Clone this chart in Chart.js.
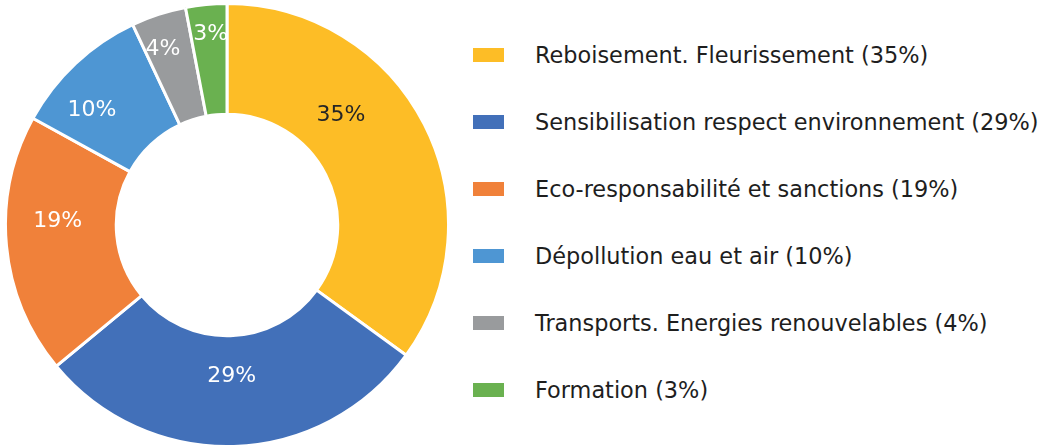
<!DOCTYPE html>
<html>
<head>
<meta charset="utf-8">
<script src="https://cdn.jsdelivr.net/npm/chart.js@4/dist/chart.umd.min.js"></script>
<style>
  html, body { margin: 0; padding: 0; background: #ffffff; width: 1052px; height: 446px; overflow: hidden; }
  #wrap { position: absolute; left: 4px; top: 2px; width: 446px; height: 446px; }
  #legend { position: absolute; left: 473px; top: 21.5px; font-family: "DejaVu Sans", Verdana, sans-serif; font-size: 22.4px; color: #1e1e1e; }
  .row { height: 67px; display: flex; align-items: center; white-space: nowrap; }
  .box { width: 31px; height: 14.5px; margin-right: 31px; flex: none; }
</style>
</head>
<body>
<div id="wrap"><canvas id="c"></canvas></div>
<div id="legend"></div>
<script>
const categories = [
  "Reboisement. Fleurissement",
  "Sensibilisation respect environnement",
  "Eco-responsabilité et sanctions",
  "Dépollution eau et air",
  "Transports. Energies renouvelables",
  "Formation"
];
const values = [35, 29, 19, 10, 4, 3];
const colors = ["#FDBD26", "#4270B9", "#F0813A", "#4E96D3", "#999B9D", "#6AB150"];
const labelColors = ["#262626", "#ffffff", "#ffffff", "#ffffff", "#ffffff", "#ffffff"];

const total = values.reduce((a, b) => a + b, 0);
const pct = v => Math.round(v / total * 100) + "%";

// HTML legend built from the data
const legend = document.getElementById("legend");
categories.forEach((c, i) => {
  const row = document.createElement("div");
  row.className = "row";
  const box = document.createElement("div");
  box.className = "box";
  box.style.background = colors[i];
  const txt = document.createElement("span");
  txt.textContent = c + " (" + pct(values[i]) + ")";
  row.appendChild(box);
  row.appendChild(txt);
  legend.appendChild(row);
});

// Slice labels plugin
const sliceLabels = {
  id: "sliceLabels",
  afterDatasetsDraw(chart, args, opts) {
    const ctx = chart.ctx;
    const meta = chart.getDatasetMeta(0);
    ctx.save();
    ctx.font = opts.font;
    ctx.textAlign = "center";
    ctx.textBaseline = "middle";
    meta.data.forEach((arc, i) => {
      const p = arc.getProps(["x", "y", "startAngle", "endAngle", "innerRadius", "outerRadius"], true);
      const place = opts.placement[i] || { da: 0, f: 0.5 };
      const a = (p.startAngle + p.endAngle) / 2 + place.da * Math.PI / 180;
      const r = p.innerRadius + (p.outerRadius - p.innerRadius) * place.f;
      ctx.fillStyle = labelColors[i];
      ctx.fillText(pct(values[i]), p.x + Math.cos(a) * r, p.y + Math.sin(a) * r);
    });
    ctx.restore();
  }
};

new Chart(document.getElementById("c"), {
  type: "doughnut",
  data: {
    labels: categories,
    datasets: [{
      data: values,
      backgroundColor: colors,
      borderColor: "#ffffff",
      borderWidth: 3,
      hoverOffset: 0
    }]
  },
  options: {
    responsive: true,
    maintainAspectRatio: false,
    animation: false,
    cutout: "50%",
    layout: { padding: 0 },
    plugins: {
      legend: { display: false },
      tooltip: { enabled: false },
      sliceLabels: {
        font: "22px 'DejaVu Sans', Verdana, sans-serif",
        placement: [
          { da: -17, f: 0.43 },
          { da: 0, f: 0.37 },
          { da: 6.5, f: 0.53 },
          { da: -6.5, f: 0.60 },
          { da: -2, f: 0.69 },
          { da: 0.5, f: 0.73 }
        ]
      }
    }
  },
  plugins: [sliceLabels]
});
</script>
</body>
</html>
